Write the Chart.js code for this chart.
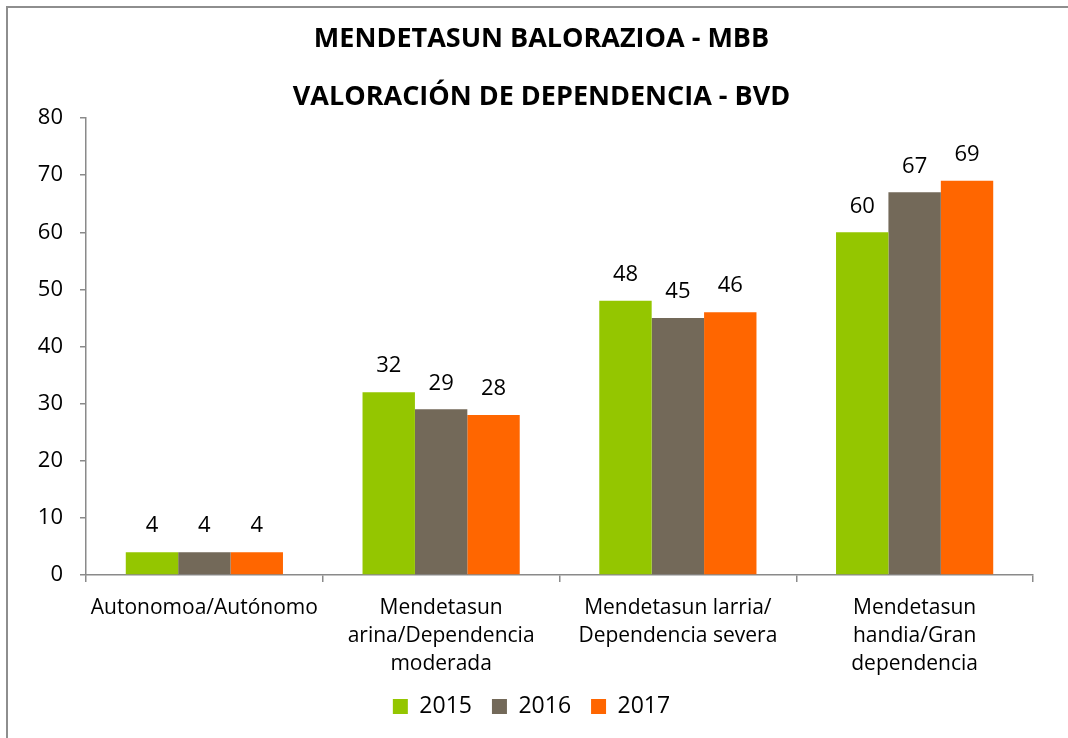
<!DOCTYPE html>
<html>
<head>
<meta charset="utf-8">
<script src="https://cdn.jsdelivr.net/npm/chart.js@4/dist/chart.umd.min.js"></script>
<style>
  html, body { margin: 0; padding: 0; background: #fff; overflow: hidden; }
  #marco { position: absolute; left: 6px; top: 6px; width: 1070px; height: 740px;
           border-left: 2px solid #8e8e8e; border-top: 2px solid #8e8e8e; }
  #grafico { position: absolute; left: 0; top: 0; }
</style>
</head>
<body>
<div id="marco"><canvas id="grafico" width="1060" height="730"></canvas></div>
<script>
// Datos del gráfico
const categorias = [
    'Autonomoa/Autónomo',
    ['Mendetasun', 'arina/Dependencia', 'moderada'],
    ['Mendetasun larria/', 'Dependencia severa'],
    ['Mendetasun', 'handia/Gran', 'dependencia']
];
const anios = ['2015', '2016', '2017'];
const valores2015 = [4, 32, 48, 60];
const valores2016 = [4, 29, 45, 67];
const valores2017 = [4, 28, 46, 69];
const colores = ['#94C600', '#736959', '#FF6600'];
const titulo = ['MENDETASUN BALORAZIOA - MBB', 'VALORACIÓN DE DEPENDENCIA - BVD'];

const fuente = "'Open Sans', 'DejaVu Sans', sans-serif";
const gris = '#8a8a8a';

// Etiquetas encima de cada barra
const etiquetasBarras = {
    id: 'etiquetasBarras',
    afterDatasetsDraw(chart) {
        const ctx = chart.ctx;
        ctx.save();
        ctx.font = '22px ' + fuente;
        ctx.fillStyle = '#000';
        ctx.textAlign = 'center';
        ctx.textBaseline = 'middle';
        chart.data.datasets.forEach((ds, i) => {
            chart.getDatasetMeta(i).data.forEach((bar, j) => {
                ctx.fillText(ds.data[j], bar.x, bar.y - 26);
            });
        });
        ctx.restore();
    }
};

// Recolocar título y leyenda como en el original
const ajustes = {
    id: 'ajustes',
    afterLayout(chart) {
        const l = chart.legend;
        l.top -= 10; l.bottom -= 10;
        l.left += 11; l.right += 11;
        const t = chart.titleBlock;
        t.top += 2; t.bottom += 2;
        t.left += 21; t.right += 21;
    }
};

const ctx = document.getElementById('grafico').getContext('2d');
const grafico = new Chart(ctx, {
    type: 'bar',
    data: {
        labels: categorias,
        datasets: [
            { label: anios[0], data: valores2015, backgroundColor: colores[0] },
            { label: anios[1], data: valores2016, backgroundColor: colores[1] },
            { label: anios[2], data: valores2017, backgroundColor: colores[2] }
        ]
    },
    options: {
        responsive: false,
        animation: false,
        layout: { padding: { left: 0, right: 35, top: 0, bottom: 0 } },
        datasets: {
            bar: { barPercentage: 1, categoryPercentage: 0.664 }
        },
        scales: {
            x: {
                afterFit(scale) { scale.height = 110; },
                grid: { display: true, offset: true, drawOnChartArea: false, drawTicks: true,
                        tickLength: 7, color: gris, lineWidth: 1.5 },
                border: { display: true, color: gris, width: 1.5 },
                ticks: {
                    color: '#000', padding: 12, maxRotation: 0, autoSkip: false,
                    font: { family: fuente, size: 21, lineHeight: '28px' }
                }
            },
            y: {
                min: 0, max: 80,
                afterFit(scale) { scale.width = 78; },
                grid: { display: true, drawOnChartArea: false, drawTicks: true,
                        tickLength: 6, color: gris, lineWidth: 1.5 },
                border: { display: true, color: gris, width: 1.5 },
                ticks: {
                    stepSize: 10, color: '#000', padding: 17,
                    font: { family: fuente, size: 22 }
                }
            }
        },
        plugins: {
            title: {
                display: true,
                text: titulo,
                color: '#000',
                padding: { top: 0, bottom: -6 },
                font: { family: fuente, size: 27, weight: 'bold', lineHeight: '58px' }
            },
            legend: {
                position: 'bottom',
                labels: {
                    color: '#000', boxWidth: 15, boxHeight: 15, padding: 20,
                    font: { family: fuente, size: 23 }
                }
            },
            tooltip: { enabled: false }
        }
    },
    plugins: [etiquetasBarras, ajustes]
});
</script>
</body>
</html>
